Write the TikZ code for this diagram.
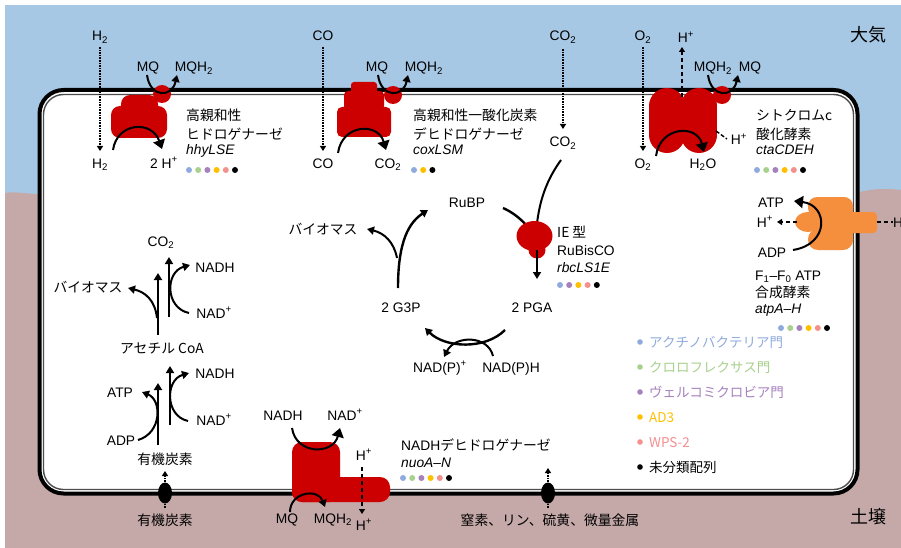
\documentclass[tikz,border=0pt]{standalone}
\usepackage{fontspec}
\setmainfont{Liberation Sans}
\newfontfamily\jpf{Noto Sans CJK JP}
\usetikzlibrary{arrows.meta}

\definecolor{sky}{HTML}{A7C8E4}
\definecolor{soil}{HTML}{C5A9A9}
\definecolor{enzred}{HTML}{CC0000}
\definecolor{atporange}{HTML}{F58E3D}
\definecolor{taxActino}{HTML}{8FAADC}
\definecolor{taxChloro}{HTML}{A9D18E}
\definecolor{taxVerru}{HTML}{A682BD}
\definecolor{taxAD}{HTML}{FFC000}
\definecolor{taxWPS}{HTML}{F4908E}
\definecolor{taxNone}{HTML}{000000}

\newcommand{\lblsize}{\fontsize{13.8}{16}\selectfont}
\newcommand{\sbs}[1]{\textsubscript{#1}}
\newcommand{\hplus}{H\textsuperscript{+}}
% row of phylum dots: x of first dot, y, list of colours
\newcommand{\taxdots}[3]{%
  \foreach \c [count=\i from 0] in {#3}
    \fill[\c] ({#1+9.2*\i},#2) circle (3pt);}

\begin{document}
\begin{tikzpicture}[x=1pt,y=-1pt,
  txt/.style={inner sep=0pt, font=\lblsize},
  jtxt/.style={inner sep=0pt, font=\lblsize\jpf},
  bigtxt/.style={inner sep=0pt, font=\fontsize{18}{20}\selectfont\jpf},
  curvearr/.style={line width=2pt, -{Triangle[length=7pt,width=8pt]}},
  enzarr/.style={line width=2pt, -{Triangle[length=9pt,width=12pt]}},
  fluxarr/.style={line width=2.6pt, -{Triangle[length=7pt,width=8pt]}},
  diffarr/.style={line width=1.6pt, densely dotted, -{Triangle[length=5pt,width=6pt]}},
  pumparr/.style={line width=1.6pt, dash pattern=on 4pt off 3pt, -{Triangle[length=5pt,width=6pt]}},
  porter/.style={fill=black},
]
% ---------- surroundings: air above, soil below ----------
\fill[white] (0,0) rectangle (901,548);
\fill[sky] (5,5) rectangle (901,548);
\fill[soil] (5,193) .. controls (15,191) and (25,194) .. (40,194) -- (857,193)
  .. controls (868,189) and (885,188) .. (901,190) -- (901,548) -- (5,548) -- cycle;
\useasboundingbox (0,0) rectangle (901,548);

% ---------- cell envelope ----------
\draw[line width=4pt, fill=white, rounded corners=24pt] (39.5,90) rectangle (857.5,493.5);
\draw[line width=1.4pt, draw=black!70, rounded corners=20pt] (43.5,94.5) rectangle (853.5,489.5);

% ---------- membrane enzymes ----------
% high-affinity hydrogenase
\fill[enzred, rounded corners=9pt] (121,95) rectangle (158,120);
\fill[enzred, rounded corners=9pt] (111,106) rectangle (167,138);
\fill[enzred] (162,94) circle (9pt);
% carbon monoxide dehydrogenase
\fill[enzred, rounded corners=3pt] (351,82) rectangle (377,95);
\fill[enzred, rounded corners=4pt] (344,91) rectangle (384,110);
\fill[enzred, rounded corners=5pt] (337,107) rectangle (391,137);
\fill[enzred] (393,95) circle (9pt);
% cytochrome c oxidase
\fill[enzred] (667,106) circle (18pt) (699,106) circle (18pt)
              (667,135) circle (18pt) (699,135) circle (18pt);
\fill[enzred] (649,106) rectangle (717,135);
\fill[enzred] (722,95) circle (9pt);
% RuBisCO attachment points
\coordinate (rbtop) at (536,235);
\coordinate (rbbot) at (537,250);
\coordinate (rbin) at (527,226);
% NADH dehydrogenase
\fill[enzred, rounded corners=10pt] (292,442) rectangle (340,502);
\fill[enzred, rounded corners=10pt] (292,477) rectangle (390,502);
% ATP synthase
\fill[atporange, rounded corners=4pt] (845,212) rectangle (877,233);
\fill[atporange, rounded corners=9pt] (808,197) rectangle (853,217);
\fill[atporange, rounded corners=10pt] (808,229) rectangle (853,250);
\fill[atporange] (815,205) rectangle (853,242);
\fill[atporange] (808,222) ellipse (13pt and 10pt);

% ---------- labels: atmosphere side ----------
\node[txt, anchor=base] (h2a) at (100,41) {H\sbs{2}};
\node[txt, anchor=base] (h2b) at (100,168) {H\sbs{2}};
\node[txt, anchor=base] (mq1) at (148,72) {MQ};
\node[txt, anchor=base] (mqh1) at (194,72) {MQH\sbs{2}};
\node[txt, anchor=base] (hp1) at (164,168) {2 \hplus};
\node[txt, anchor=base] (coa) at (323,41) {CO};
\node[txt, anchor=base] (cob) at (323,168) {CO};
\node[txt, anchor=base] (mq2) at (377,72) {MQ};
\node[txt, anchor=base] (mqh2) at (424,72) {MQH\sbs{2}};
\node[txt, anchor=base] (co2a) at (388,168) {CO\sbs{2}};
\node[txt, anchor=base] (co2b) at (563,41) {CO\sbs{2}};
\node[txt, anchor=base] (co2c) at (563,147) {CO\sbs{2}};
\node[txt, anchor=base] (o2a) at (643,41) {O\sbs{2}};
\node[txt, anchor=base] (hp2) at (686,43) {\hplus};
\node[txt, anchor=base] (mqh3) at (713,72) {MQH\sbs{2}};
\node[txt, anchor=base] (mq3) at (750,72) {MQ};
\node[txt, anchor=base] (o2b) at (643,168) {O\sbs{2}};
\node[txt, anchor=base] (h2o) at (703,168) {H\sbs{2}O};
\node[txt, anchor=base] (hp3) at (739,145) {\hplus};
\node[bigtxt, anchor=base] (air) at (868,42) {大気};

% enzyme captions
\node[jtxt, anchor=base west] (hyd1) at (186,121) {高親和性};
\node[jtxt, anchor=base west] (hyd2) at (186,139.5) {ヒドロゲナーゼ};
\node[txt, anchor=base west, font=\lblsize\itshape] (hyd3) at (186,155) {hhyLSE};
\taxdots{189}{170}{taxActino,taxChloro,taxVerru,taxAD,taxWPS,taxNone}
\node[jtxt, anchor=base west] (cod1) at (413,121) {高親和性一酸化炭素};
\node[jtxt, anchor=base west] (cod2) at (413,139.5) {デヒドロゲナーゼ};
\node[txt, anchor=base west, font=\lblsize\itshape] (cod3) at (413,155) {coxLSM};
\taxdots{414}{170}{taxActino,taxAD,taxNone}
\node[jtxt, anchor=base west] (cyt1) at (756,121) {シトクロムc};
\node[jtxt, anchor=base west] (cyt2) at (756,139.5) {酸化酵素};
\node[txt, anchor=base west, font=\lblsize\itshape] (cyt3) at (756,155) {ctaCDEH};
\taxdots{757}{170}{taxActino,taxChloro,taxVerru,taxAD,taxWPS,taxNone}

% ---------- Calvin cycle ----------
\node[txt, anchor=base] (rubp) at (467,207) {RuBP};
\node[jtxt, anchor=base] (bio1) at (323,234) {バイオマス};
\node[txt, anchor=base] (pga) at (532,312) {2 PGA};
\node[txt, anchor=base] (g3p) at (401,312) {2 G3P};
\node[txt, anchor=base] (nadp) at (440,372) {NAD(P)\textsuperscript{+}};
\node[txt, anchor=base] (nadph) at (511,372) {NAD(P)H};
\node[jtxt, anchor=base west] (rbc1) at (557,237) {IE 型};
\node[txt, anchor=base west] (rbc2) at (557,255) {RuBisCO};
\node[txt, anchor=base west, font=\lblsize\itshape] (rbc3) at (557,272) {rbcLS1E};
\taxdots{560}{285}{taxActino,taxVerru,taxAD,taxWPS,taxNone}

% ---------- central carbon metabolism ----------
\node[txt, anchor=base] (co2d) at (161,246) {CO\sbs{2}};
\node[txt, anchor=base] (nadh1) at (215,272) {NADH};
\node[txt, anchor=base] (nad1) at (214,318) {NAD\textsuperscript{+}};
\node[jtxt, anchor=base] (bio2) at (88,292) {バイオマス};
\node[jtxt, anchor=base] (acoa) at (162,353) {アセチル CoA};
\node[txt, anchor=base] (nadh2) at (215,378) {NADH};
\node[txt, anchor=base] (nad2) at (214,425) {NAD\textsuperscript{+}};
\node[txt, anchor=base] (atp1) at (120,397) {ATP};
\node[txt, anchor=base] (adp1) at (121,445) {ADP};
\node[jtxt, anchor=base] (orgin) at (165,464) {有機炭素};
\node[jtxt, anchor=base] (orgout) at (165,525) {有機炭素};

% ---------- soil side ----------
\node[txt, anchor=base] (nadh3) at (283,420) {NADH};
\node[txt, anchor=base] (nad3) at (345,420) {NAD\textsuperscript{+}};
\node[txt, anchor=base] (hp4) at (364,460) {\hplus};
\node[txt, anchor=base] (mq4) at (287,523) {MQ};
\node[txt, anchor=base] (mqh4) at (333,523) {MQH\sbs{2}};
\node[txt, anchor=base] (hp5) at (364,530) {\hplus};
\node[txt, anchor=base west] (ndh1) at (401,450) {NADH{\jpf デヒドロゲナーゼ}};
\node[txt, anchor=base west, font=\lblsize\itshape] (ndh2) at (401,467) {nuoA–N};
\taxdots{403}{478}{taxActino,taxChloro,taxVerru,taxAD,taxWPS,taxNone}
\node[jtxt, anchor=base] (nutr) at (550,525) {窒素、リン、硫黄、微量金属};
\node[bigtxt, anchor=base] (soilname) at (868,523) {土壌};

% ---------- ATP synthase ----------
\node[txt, anchor=base] (atp2) at (771,207) {ATP};
\node[txt, anchor=base] (hp6) at (765,227) {\hplus};
\node[txt, anchor=base] (adp2) at (772,257) {ADP};
\node[txt, anchor=base west] (hp7) at (893,227) {\hplus};
\node[txt, anchor=base west] (atps1) at (755,280) {F\sbs{1}–F\sbs{0} ATP};
\node[jtxt, anchor=base west] (atps2) at (755,297) {合成酵素};
\node[txt, anchor=base west, font=\lblsize\itshape] (atps3) at (755,313) {atpA–H};
\taxdots{781}{328}{taxActino,taxChloro,taxVerru,taxAD,taxWPS,taxNone}

% ---------- legend ----------
\foreach \col/\name [count=\k from 0] in
  {taxActino/アクチノバクテリア門, taxChloro/クロロフレクサス門,
   taxVerru/ヴェルコミクロビア門, taxAD/AD3, taxWPS/WPS-2, taxNone/未分類配列}{
  \fill[\col] (640,{342+25*\k}) circle (2.8pt);
  \node[jtxt, anchor=base west, text=\col, font=\fontsize{13.5}{15}\selectfont\jpf]
    (leg\k) at (649,{347+25*\k}) {\name};
}

% ---------- diffusion across the envelope ----------
\draw[diffarr] (100,47) -- (100,151);
\draw[diffarr] (323,47) -- (323,151);
\draw[diffarr] (643,47) -- (643,151);
\draw[diffarr] (563,49) -- (563,129);

% ---------- enzyme reactions ----------
\draw[enzarr] (113,150) .. controls (117,122) and (152,120) .. (162,149);
\draw[curvearr] (147,75) .. controls (150,98) and (172,98) .. (177,75);
\draw[enzarr] (338,153) .. controls (342,124) and (378,122) .. (386,150);
\draw[curvearr] (378,75) .. controls (381,98) and (403,98) .. (408,75);
\draw[enzarr] (656,156) .. controls (660,126) and (697,124) .. (704,152);
\draw[curvearr] (708,75) .. controls (711,98) and (733,98) .. (738,75);
\draw[pumparr] (682,97) -- (682,47);
\draw[line width=1.4pt, dash pattern=on 4pt off 2pt] (716,131) -- (727,139);

% ---------- Calvin cycle arrows ----------
\draw[line width=2pt] (561,160) .. controls (548,178) and (538,200) .. (rbtop);
\draw[line width=2.4pt] (503,208) .. controls (512,212) and (520,218) .. (rbin);
\fill[enzred] (534.5,236) ellipse (18pt and 15pt);
\fill[enzred] (537,250) circle (8.5pt);
\draw[curvearr] (rbbot) -- (537,279);
\draw[curvearr, line width=2.4pt] (398,288) .. controls (398,250) and (405,225) .. (428,210);
\draw[curvearr] (397,258) .. controls (394,242) and (384,233) .. (367,229);
\draw[curvearr, line width=2.4pt] (505,330) .. controls (485,350) and (445,348) .. (425,328);
\draw[curvearr] (493,356) .. controls (488,335) and (455,335) .. (444,357);

% ---------- central carbon metabolism arrows ----------
\draw[fluxarr] (158,335) -- (158,273);
\draw[fluxarr] (169,317) -- (169,257);
\draw[curvearr] (157,318) .. controls (155,300) and (145,292) .. (128,288);
\draw[curvearr] (189,313) .. controls (165,308) and (165,272) .. (190,265);
\draw[fluxarr] (158,445) -- (158,383);
\draw[fluxarr] (170,425) -- (170,366);
\draw[curvearr] (138,440) .. controls (162,433) and (162,400) .. (142,392);
\draw[curvearr] (188,421) .. controls (165,416) and (165,380) .. (189,373);

% ---------- transporters ----------
\draw[diffarr] (165,508) -- (165,471);
\fill[porter] (165,493) ellipse (7pt and 10.5pt);
\draw[diffarr] (548,508) -- (548,468);
\fill[porter] (548,493) ellipse (7pt and 10.5pt);

% ---------- NADH dehydrogenase reactions ----------
\draw[enzarr] (292,428) .. controls (296,455) and (333,455) .. (340,428);
\draw[curvearr] (290,512) .. controls (290,492) and (318,488) .. (325,507);
\draw[pumparr] (362,467) -- (362,514);

% ---------- ATP synthase reactions ----------
\draw[enzarr] (793,250) .. controls (830,244) and (828,205) .. (794,201);
\draw[pumparr] (797,222) -- (777,222);
\draw[line width=1.6pt, dash pattern=on 4pt off 3pt] (877,222) -- (893,222);
\end{tikzpicture}
\end{document}
